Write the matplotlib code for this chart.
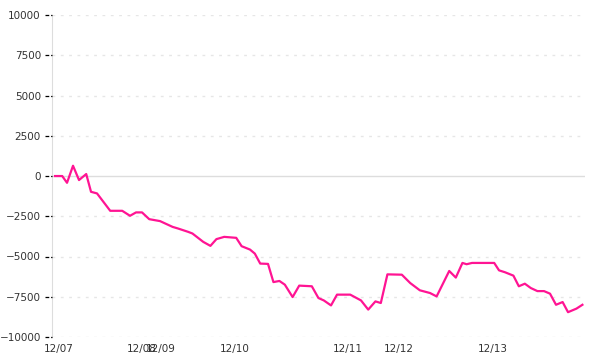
import matplotlib
matplotlib.use("Agg")
import matplotlib.pyplot as plt

# sample position (step index) and value
steps = [0, 1.2, 2, 3, 4, 5.2, 6, 7, 9.2, 11.2, 12.5, 13.5, 14.5, 15.7, 17.5,
         19.6, 20.5, 22.2, 22.9, 24.7, 25.9, 26.9, 28.2, 30.2, 31.1, 32.5, 33.3,
         34.2, 35.5, 36.4, 37.4, 38.3, 39.6, 40.7, 42.8, 43.9, 44.8, 46, 47,
         49.2, 51, 52.2, 53.4, 54.3, 55.4, 57.8, 59.2, 60.8, 62.5, 63.6, 65.7,
         66.8, 67.9, 68.6, 69.5, 73.2, 74, 75, 76.4, 77.3, 78.3, 79.3, 80.4,
         81.5, 82.5, 83.5, 84.6, 85.5, 86.9, 87.9]
values = [0, 0, -420, 640, -250, 125, -980, -1080, -2160, -2160, -2470, -2260,
          -2260, -2680, -2800, -3160, -3260, -3470, -3570, -4090, -4340, -3920,
          -3780, -3840, -4360, -4570, -4820, -5440, -5460, -6590, -6520, -6750,
          -7520, -6810, -6850, -7580, -7730, -8040, -7370, -7370, -7730, -8300,
          -7790, -7890, -6110, -6130, -6650, -7100, -7270, -7480, -5900, -6310,
          -5400, -5480, -5400, -5400, -5860, -5980, -6190, -6850, -6690, -6960,
          -7150, -7150, -7310, -8000, -7830, -8460, -8240, -8000]

day_pos = [0.7, 14.5, 17.7, 30, 48.8, 57.3, 73]
day_labels = ["12/07", "12/08", "12/09", "12/10", "12/11", "12/12", "12/13"]
y_ticks = [10000, 7500, 5000, 2500, 0, -2500, -5000, -7500, -10000]

fig = plt.figure(figsize=(6, 3.6), dpi=100)
ax = fig.add_axes([0.0867, 0.064, 0.888, 0.894])

tick_len = 7 / (0.888 * 600)  # 7 px in axes fraction
for yv in y_ticks:
    if yv == 0:
        ax.axhline(yv, color="#dddddd", lw=1, zorder=1)
    else:
        ax.axhline(yv, color="#e6e6e6", lw=1, ls=(0, (2, 4)), zorder=1)
    # dashed tick mark left of the axis
    ax.plot([-tick_len, 0], [yv, yv], transform=ax.get_yaxis_transform(),
            color="black", lw=0.9, ls=(0, (3, 1.5)), clip_on=False, zorder=4)

ax.plot(steps, values, color="#ff1493", lw=1.6, zorder=3)

ax.set_xlim(-0.5, 88.3)
ax.set_ylim(-10000, 10000)
ax.set_yticks(y_ticks)
ax.set_xticks(day_pos)
ax.set_xticklabels(day_labels)

for s in ["top", "right", "bottom"]:
    ax.spines[s].set_visible(False)
ax.spines["left"].set_color("#dddddd")
ax.tick_params(axis="y", length=7, color="none", labelsize=7.5,
               labelcolor="#333333", pad=1)
ax.tick_params(axis="x", length=0, labelsize=7.5, labelcolor="#333333", pad=5)

fig.savefig("out.png", dpi=100)
